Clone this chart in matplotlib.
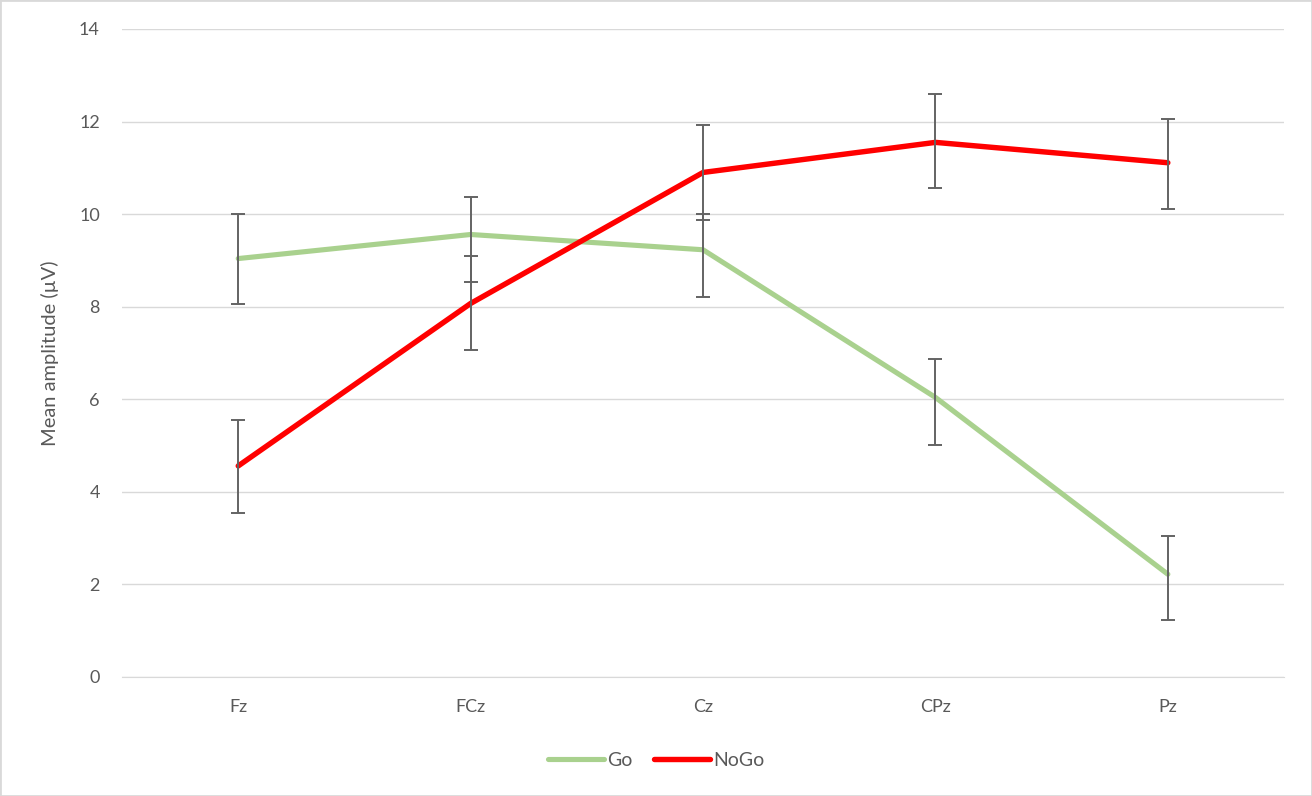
import numpy as np
import matplotlib.pyplot as plt
from matplotlib.patches import Rectangle

# values
sites = ["Fz", "FCz", "Cz", "CPz", "Pz"]
go_mean = [9.04, 9.56, 9.23, 6.04, 2.22]
go_err_low = [0.99, 1.02, 1.02, 1.02, 0.98]
go_err_high = [0.96, 0.82, 0.78, 0.83, 0.82]
nogo_mean = [4.56, 8.07, 10.90, 11.55, 11.11]
nogo_err_low = [1.01, 1.00, 1.02, 0.99, 0.99]
nogo_err_high = [1.00, 1.03, 1.03, 1.05, 0.94]

plt.rcParams['font.family'] = ['Lato', 'DejaVu Sans']
grey_text = "#595959"

fig = plt.figure(figsize=(13.12, 7.96), dpi=100)
ax = fig.add_axes([0.093, 0.1495, 0.8857, 0.8141])

x = np.arange(len(sites))
ax.plot(x, go_mean, color="#a9d18e", lw=3.7, solid_capstyle="round",
        solid_joinstyle="round", label="Go", zorder=3)
ax.plot(x, nogo_mean, color="#ff0000", lw=3.9, solid_capstyle="round",
        solid_joinstyle="round", label="NoGo", zorder=3)
ax.errorbar(x, go_mean, yerr=[go_err_low, go_err_high], fmt="none",
            ecolor="#636363", elinewidth=1.4, capsize=5, capthick=1.4, zorder=4)
ax.errorbar(x, nogo_mean, yerr=[nogo_err_low, nogo_err_high], fmt="none",
            ecolor="#636363", elinewidth=1.4, capsize=5, capthick=1.4, zorder=4)

ax.set_xlim(-0.5, len(sites) - 0.5)
ax.set_ylim(0, 14)
ax.set_yticks(range(0, 15, 2))
ax.set_xticks(x)
ax.set_xticklabels(sites)
ax.tick_params(length=0, labelsize=13, colors=grey_text)
ax.tick_params(axis="y", pad=16)
ax.tick_params(axis="x", pad=16)
ax.grid(axis="y", color="#d9d9d9", lw=1)
ax.set_axisbelow(True)
for s in ["top", "right", "left"]:
    ax.spines[s].set_visible(False)
ax.spines["bottom"].set_color("#d9d9d9")
ax.set_ylabel("Mean amplitude (µV)", fontsize=14.5, color=grey_text, labelpad=14)

fig.legend(loc="center", bbox_to_anchor=(0.5, 0.045), ncol=2, frameon=False,
           handlelength=2.9, handletextpad=0.15, columnspacing=1.1,
           fontsize=14, labelcolor=grey_text)

fig.patches.append(Rectangle((0, 0), 1, 1, transform=fig.transFigure,
                             fill=False, edgecolor="#d9d9d9", lw=2))

fig.savefig("out.png", dpi=100)
